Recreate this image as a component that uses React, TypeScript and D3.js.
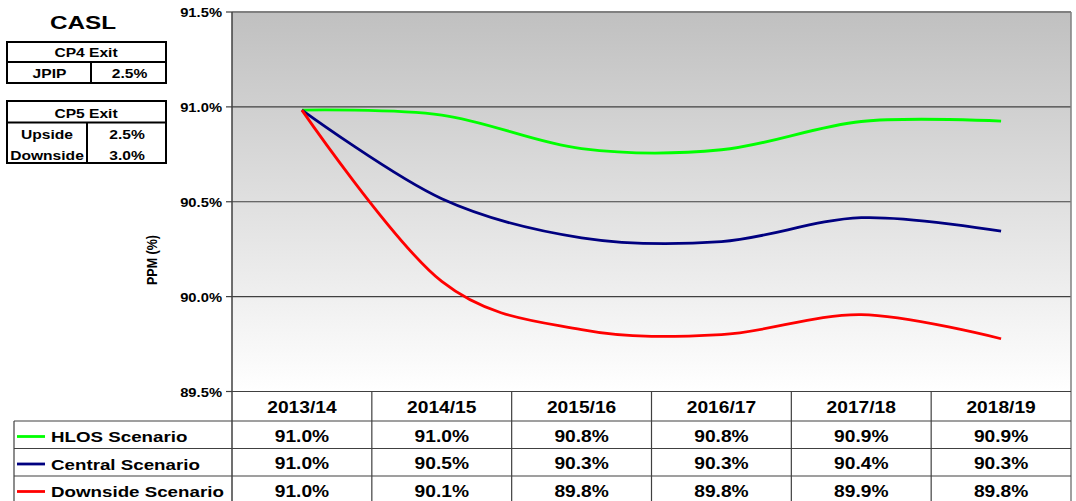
import React from 'react';
import * as d3 from 'd3';

// values (PPM %)
const years = ['2013/14', '2014/15', '2015/16', '2016/17', '2017/18', '2018/19'];
const hlos = [90.983, 90.957, 90.78, 90.774, 90.923, 90.925];
const central = [90.983, 90.516, 90.31, 90.29, 90.416, 90.345];
const downside = [90.983, 90.08, 89.826, 89.8, 89.905, 89.778];

const hlosText = ['91.0%', '91.0%', '90.8%', '90.8%', '90.9%', '90.9%'];
const centralText = ['91.0%', '90.5%', '90.3%', '90.3%', '90.4%', '90.3%'];
const downsideText = ['91.0%', '90.1%', '89.8%', '89.8%', '89.9%', '89.8%'];

const yTicks = [89.5, 90.0, 90.5, 91.0, 91.5];

const cp4Rows = [['JPIP', '2.5%']];
const cp5Rows = [['Upside', '2.5%'], ['Downside', '3.0%']];

const series = [
    { name: 'HLOS Scenario', color: '#00ff00', values: hlos, text: hlosText },
    { name: 'Central Scenario', color: '#000080', values: central, text: centralText },
    { name: 'Downside Scenario', color: '#ff0000', values: downside, text: downsideText },
];

const W = 1076, H = 501;
const left = 232, right = 1071, top = 12, bottom = 391.5;
const headH = 29.5, rowH = 27.5, tableLeft = 14;
const font = "'Liberation Sans', Arial, sans-serif";
const SX = 1.2; // the original text is drawn a little wider than Arial

// text stretched horizontally around its anchor
function T({ x, y, size, anchor = 'middle', sx = SX, children }:
           { x: number, y: number, size: number, anchor?: string, sx?: number, children: React.ReactNode }) {
    return (
        <text transform={`translate(${x},${y}) scale(${sx},1)`} textAnchor={anchor} fontSize={size}>
            {children}
        </text>
    );
}

export default function App() {
    const x = d3.scaleBand<string>().domain(years).range([left, right]);
    const cx = (d: string) => (x(d) as number) + x.bandwidth() / 2;
    const y = d3.scaleLinear().domain([89.5, 91.5]).range([bottom, top]);
    const fmt = d3.format('.1f');

    const line = d3.line<number>()
        .x((d, i) => cx(years[i]))
        .y(d => y(d))
        .curve(d3.curveCatmullRom.alpha(0));

    const rowTop = (i: number) => bottom + headH + i * rowH;

    return (
        <svg width={W} height={H} style={{ position: 'absolute', left: 0, top: 0, background: '#fff' }}
             fontFamily={font} fontWeight="bold">
            <defs>
                <linearGradient id="bg" x1="0" y1="0" x2="0" y2="1">
                    <stop offset="0" stopColor="#c0c0c0" />
                    <stop offset="1" stopColor="#ffffff" />
                </linearGradient>
            </defs>

            {/* side boxes */}
            <T x={83} y={28.5} size={19} sx={1.28}>CASL</T>
            <g fill="none" stroke="#000" strokeWidth={2}>
                <rect x={7} y={42} width={159} height={41} />
                <line x1={7} x2={166} y1={62} y2={62} />
                <line x1={91} x2={91} y1={62} y2={83} />
                <rect x={7} y={101} width={159} height={62} />
                <line x1={7} x2={166} y1={122.5} y2={122.5} />
                <line x1={87} x2={87} y1={122.5} y2={163} />
            </g>
            <T x={86} y={57.3} size={13}>CP4 Exit</T>
            {cp4Rows.map((r, i) => (
                <g key={r[0]}>
                    <T x={49.5} y={77.5 + i * 21} size={13}>{r[0]}</T>
                    <T x={129.5} y={77.5 + i * 21} size={13}>{r[1]}</T>
                </g>
            ))}
            <T x={86} y={118.3} size={13}>CP5 Exit</T>
            {cp5Rows.map((r, i) => (
                <g key={r[0]}>
                    <T x={47} y={139.3 + i * 20.3} size={13}>{r[0]}</T>
                    <T x={127} y={139.3 + i * 20.3} size={13}>{r[1]}</T>
                </g>
            ))}

            {/* plot area */}
            <rect x={left} y={top} width={right - left} height={bottom - top} fill="url(#bg)" />
            {yTicks.slice(1, -1).map(t => (
                <line key={t} x1={left} x2={right} y1={y(t)} y2={y(t)} stroke="#404040" strokeWidth={1.2} />
            ))}
            <line x1={left} x2={right} y1={top} y2={top} stroke="#808080" strokeWidth={2} />
            <line x1={right} x2={right} y1={top} y2={bottom + headH + 3 * rowH} stroke="#808080" strokeWidth={1.5} />

            {/* y axis */}
            <line x1={left} x2={left} y1={top} y2={H} stroke="#404040" strokeWidth={1.5} />
            {yTicks.map(t => (
                <g key={t}>
                    <line x1={left - 6} x2={left} y1={y(t)} y2={y(t)} stroke="#404040" strokeWidth={1.2} />
                    <T x={left - 10} y={y(t) + 5} size={12.3} anchor="end">{fmt(t)}%</T>
                </g>
            ))}
            <text transform={`translate(157,260) rotate(-90) scale(1,1.2)`} textAnchor="middle" fontSize={12.5}>PPM (%)</text>

            {/* series */}
            {series.map(s => (
                <path key={s.name} d={line(s.values) as string} fill="none" stroke={s.color}
                      strokeWidth={2.8} strokeLinejoin="round" />
            ))}

            {/* data table */}
            <g stroke="#404040" strokeWidth={1.2}>
                <line x1={left} x2={right} y1={bottom} y2={bottom} />
                {[0, 1, 2].map(i => (
                    <line key={i} x1={tableLeft} x2={right} y1={rowTop(i)} y2={rowTop(i)} />
                ))}
                <line x1={tableLeft} x2={tableLeft} y1={rowTop(0)} y2={H} />
                {years.slice(1).map(d => (
                    <line key={d} x1={x(d)} x2={x(d)} y1={bottom} y2={H} />
                ))}
            </g>
            {years.map(d => (
                <T key={d} x={cx(d)} y={bottom + 21.2} size={16}>{d}</T>
            ))}
            {series.map((s, i) => s.text.map((t, j) => (
                <T key={s.name + j} x={cx(years[j])} y={rowTop(i) + 20.5} size={16}>{t}</T>
            )))}
            {series.map((s, i) => (
                <g key={s.name}>
                    <line x1={17} x2={45} y1={rowTop(i) + 15.5} y2={rowTop(i) + 15.5} stroke={s.color} strokeWidth={2.8} />
                    <T x={51} y={rowTop(i) + 21} size={15} anchor="start" sx={1.25}>{s.name}</T>
                </g>
            ))}
        </svg>
    );
}
